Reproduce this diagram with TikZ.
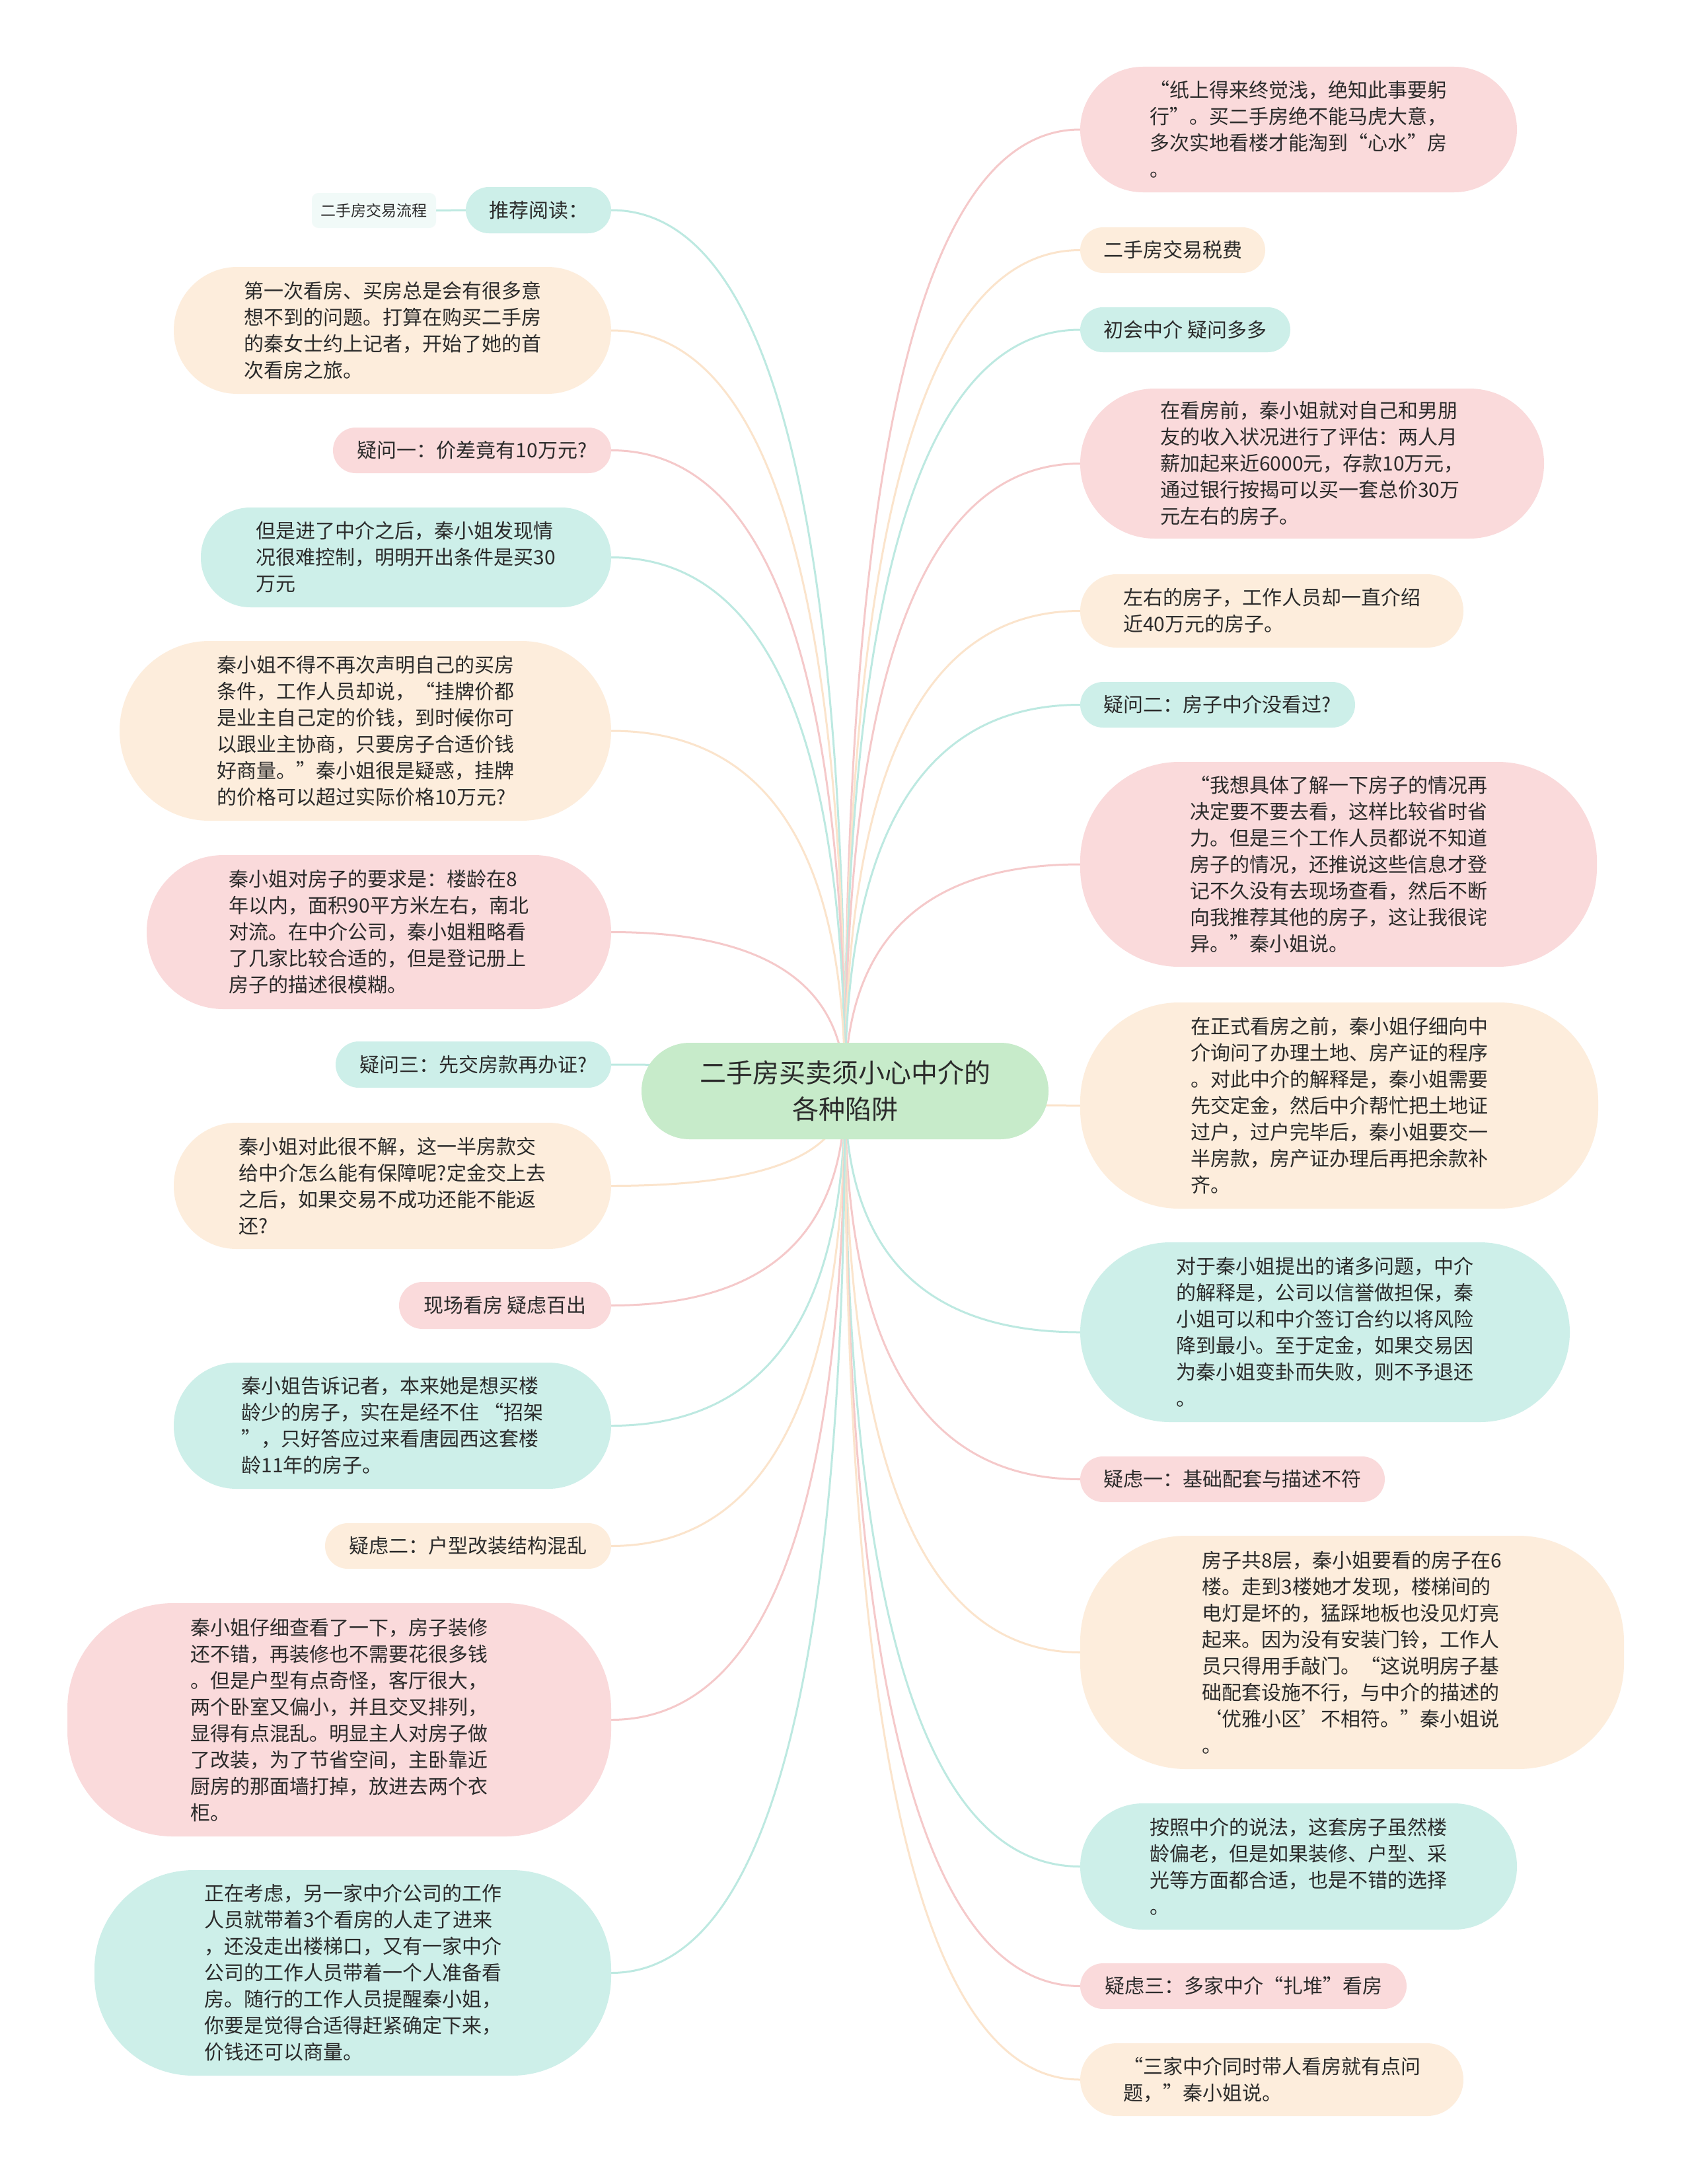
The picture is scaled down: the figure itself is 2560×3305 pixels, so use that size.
\documentclass[tikz,border=0pt]{standalone}
\usepackage{fontspec}
\setmainfont{Noto Sans CJK SC}
\usetikzlibrary{calc}
\pgfdeclarelayer{paper}
\pgfdeclarelayer{links}
\pgfsetlayers{paper,links,main}
\definecolor{pinkF}{HTML}{FADADB}
\definecolor{orgF}{HTML}{FDEDDC}
\definecolor{tealF}{HTML}{CDEFE9}
\definecolor{greenF}{HTML}{C7EBCA}
\definecolor{paleF}{HTML}{F1FAF8}
\definecolor{pinkL}{HTML}{F5C9CA}
\definecolor{orgL}{HTML}{FBE4CC}
\definecolor{tealL}{HTML}{BDE9E1}
\definecolor{txt}{HTML}{2B2B2B}
\newcommand\bodyfont{\fontsize{30pt}{40pt}\selectfont}
\newcommand\mmedge[2]{\draw[#1] (C.center) .. controls ($(C.center)!0.667!(C.center|-#2)$) and ($(#2)!0.667!(C.center|-#2)$) .. (#2);}
\tikzset{
  mm/.style={inner sep=0pt, align=left, font=\bodyfont, text=txt},
  pk/.style={mm, fill=pinkF},
  og/.style={mm, fill=orgF},
  tl/.style={mm, fill=tealF},
  box/.style n args={3}{minimum width=#1pt, minimum height=#2pt, rounded corners=#3pt},
  epk/.style={draw=pinkL, line width=3pt},
  eog/.style={draw=orgL, line width=3pt},
  etl/.style={draw=tealL, line width=3pt},
}
\begin{document}
\begin{tikzpicture}[x=1pt,y=-1pt]
\begin{pgfonlayer}{paper}
\fill[white] (0,0) rectangle (2560,3305);
\end{pgfonlayer}
\useasboundingbox (0,0) rectangle (2560,3305);
% centre
\node[mm, fill=greenF, align=center, font=\fontsize{40pt}{55pt}\selectfont, box={616}{146}{73}] (C) at (1279,1651) {二手房买卖须小心中介的\\各种陷阱};
% right side
\node[pk, box={661}{190}{95}] (r1) at (1965.5,196) {“纸上得来终觉浅，绝知此事要躬\\行”。买二手房绝不能马虎大意，\\多次实地看楼才能淘到“心水”房\\。};
\node[og, box={280}{69}{34.5}] (r2) at (1775,378.5) {二手房交易税费};
\node[tl, box={318}{68}{34}] (r3) at (1794,499) {初会中介 疑问多多};
\node[pk, box={702}{227}{113}] (r4) at (1986,701.5) {在看房前，秦小姐就对自己和男朋\\友的收入状况进行了评估：两人月\\薪加起来近6000元，存款10万元，\\通过银行按揭可以买一套总价30万\\元左右的房子。};
\node[og, box={580}{111}{55}] (r5) at (1925,924.5) {左右的房子，工作人员却一直介绍\\近40万元的房子。};
\node[tl, box={416}{69}{34.5}] (r6) at (1843,1066.5) {疑问二：房子中介没看过?};
\node[pk, box={782}{310}{150}] (r7) at (2026,1308) {“我想具体了解一下房子的情况再\\决定要不要去看，这样比较省时省\\力。但是三个工作人员都说不知道\\房子的情况，还推说这些信息才登\\记不久没有去现场查看，然后不断\\向我推荐其他的房子，这让我很诧\\异。”秦小姐说。};
\node[og, box={784}{312}{150}] (r8) at (2027,1673) {在正式看房之前，秦小姐仔细向中\\介询问了办理土地、房产证的程序\\。对此中介的解释是，秦小姐需要\\先交定金，然后中介帮忙把土地证\\过户，过户完毕后，秦小姐要交一\\半房款，房产证办理后再把余款补\\齐。};
\node[tl, box={741}{272}{136}] (r9) at (2005.5,2016) {对于秦小姐提出的诸多问题，中介\\的解释是，公司以信誉做担保，秦\\小姐可以和中介签订合约以将风险\\降到最小。至于定金，如果交易因\\为秦小姐变卦而失败，则不予退还\\。};
\node[pk, box={461}{69}{34.5}] (r10) at (1865.5,2238.5) {疑虑一：基础配套与描述不符};
\node[og, box={823}{353}{160}] (r11) at (2046.5,2500.5) {房子共8层，秦小姐要看的房子在6\\楼。走到3楼她才发现，楼梯间的\\电灯是坏的，猛踩地板也没见灯亮\\起来。因为没有安装门铃，工作人\\员只得用手敲门。“这说明房子基\\础配套设施不行，与中介的描述的\\‘优雅小区’不相符。”秦小姐说\\。};
\node[tl, box={661}{191}{95}] (r12) at (1965.5,2824.5) {按照中介的说法，这套房子虽然楼\\龄偏老，但是如果装修、户型、采\\光等方面都合适，也是不错的选择\\。};
\node[pk, box={494}{69}{34.5}] (r13) at (1882,3005.5) {疑虑三：多家中介“扎堆”看房};
\node[og, box={580}{110}{55}] (r14) at (1925,3147) {“三家中介同时带人看房就有点问\\题，”秦小姐说。};
% left side
\node[mm, fill=paleF, font=\fontsize{23pt}{30pt}\selectfont, box={188}{53}{10}] (l0a) at (566,318.5) {二手房交易流程};
\node[tl, box={220}{70}{35}] (l0) at (815,318) {推荐阅读：};
\node[og, box={662}{192}{96}] (l1) at (594,500) {第一次看房、买房总是会有很多意\\想不到的问题。打算在购买二手房\\的秦女士约上记者，开始了她的首\\次看房之旅。};
\node[pk, box={421}{69}{34.5}] (l2) at (714.5,681.5) {疑问一：价差竟有10万元?};
\node[tl, box={621}{151}{75}] (l3) at (614.5,843.5) {但是进了中介之后，秦小姐发现情\\况很难控制，明明开出条件是买30\\万元};
\node[og, box={744}{272}{136}] (l4) at (553,1106) {秦小姐不得不再次声明自己的买房\\条件，工作人员却说，“挂牌价都\\是业主自己定的价钱，到时候你可\\以跟业主协商，只要房子合适价钱\\好商量。”秦小姐很是疑惑，挂牌\\的价格可以超过实际价格10万元?};
\node[pk, box={703}{233}{116}] (l5) at (573.5,1410.5) {秦小姐对房子的要求是：楼龄在8\\年以内，面积90平方米左右，南北\\对流。在中介公司，秦小姐粗略看\\了几家比较合适的，但是登记册上\\房子的描述很模糊。};
\node[tl, box={417}{70}{35}] (l6) at (716.5,1611) {疑问三：先交房款再办证?};
\node[og, box={662}{191}{95}] (l7) at (594,1794.5) {秦小姐对此很不解，这一半房款交\\给中介怎么能有保障呢?定金交上去\\之后，如果交易不成功还能不能返\\还?};
\node[pk, box={321}{71}{35.5}] (l8) at (764.5,1975.5) {现场看房 疑虑百出};
\node[tl, box={662}{191}{95}] (l9) at (594,2157.5) {秦小姐告诉记者，本来她是想买楼\\龄少的房子，实在是经不住 “招架\\”，只好答应过来看唐园西这套楼\\龄11年的房子。};
\node[og, box={433}{69}{34.5}] (l10) at (708.5,2339.5) {疑虑二：户型改装结构混乱};
\node[pk, box={823}{353}{160}] (l11) at (513.5,2602.5) {秦小姐仔细查看了一下，房子装修\\还不错，再装修也不需要花很多钱\\。但是户型有点奇怪，客厅很大，\\两个卧室又偏小，并且交叉排列，\\显得有点混乱。明显主人对房子做\\了改装，为了节省空间，主卧靠近\\厨房的那面墙打掉，放进去两个衣\\柜。};
\node[tl, box={782}{311}{150}] (l12) at (534,2985.5) {正在考虑，另一家中介公司的工作\\人员就带着3个看房的人走了进来\\，还没走出楼梯口，又有一家中介\\公司的工作人员带着一个人准备看\\房。随行的工作人员提醒秦小姐，\\你要是觉得合适得赶紧确定下来，\\价钱还可以商量。};
% connectors
\begin{pgfonlayer}{links}
\mmedge{epk}{r1.west}
\mmedge{eog}{r2.west}
\mmedge{etl}{r3.west}
\mmedge{epk}{r4.west}
\mmedge{eog}{r5.west}
\mmedge{etl}{r6.west}
\mmedge{epk}{r7.west}
\mmedge{eog}{r8.west}
\mmedge{etl}{r9.west}
\mmedge{epk}{r10.west}
\mmedge{eog}{r11.west}
\mmedge{etl}{r12.west}
\mmedge{epk}{r13.west}
\mmedge{eog}{r14.west}
\mmedge{etl}{l0.east}
\mmedge{eog}{l1.east}
\mmedge{epk}{l2.east}
\mmedge{etl}{l3.east}
\mmedge{eog}{l4.east}
\mmedge{epk}{l5.east}
\mmedge{etl}{l6.east}
\mmedge{eog}{l7.east}
\mmedge{epk}{l8.east}
\mmedge{etl}{l9.east}
\mmedge{eog}{l10.east}
\mmedge{epk}{l11.east}
\mmedge{etl}{l12.east}
\draw[etl] (l0a.east) -- (l0.west);
\end{pgfonlayer}
\end{tikzpicture}
\end{document}
